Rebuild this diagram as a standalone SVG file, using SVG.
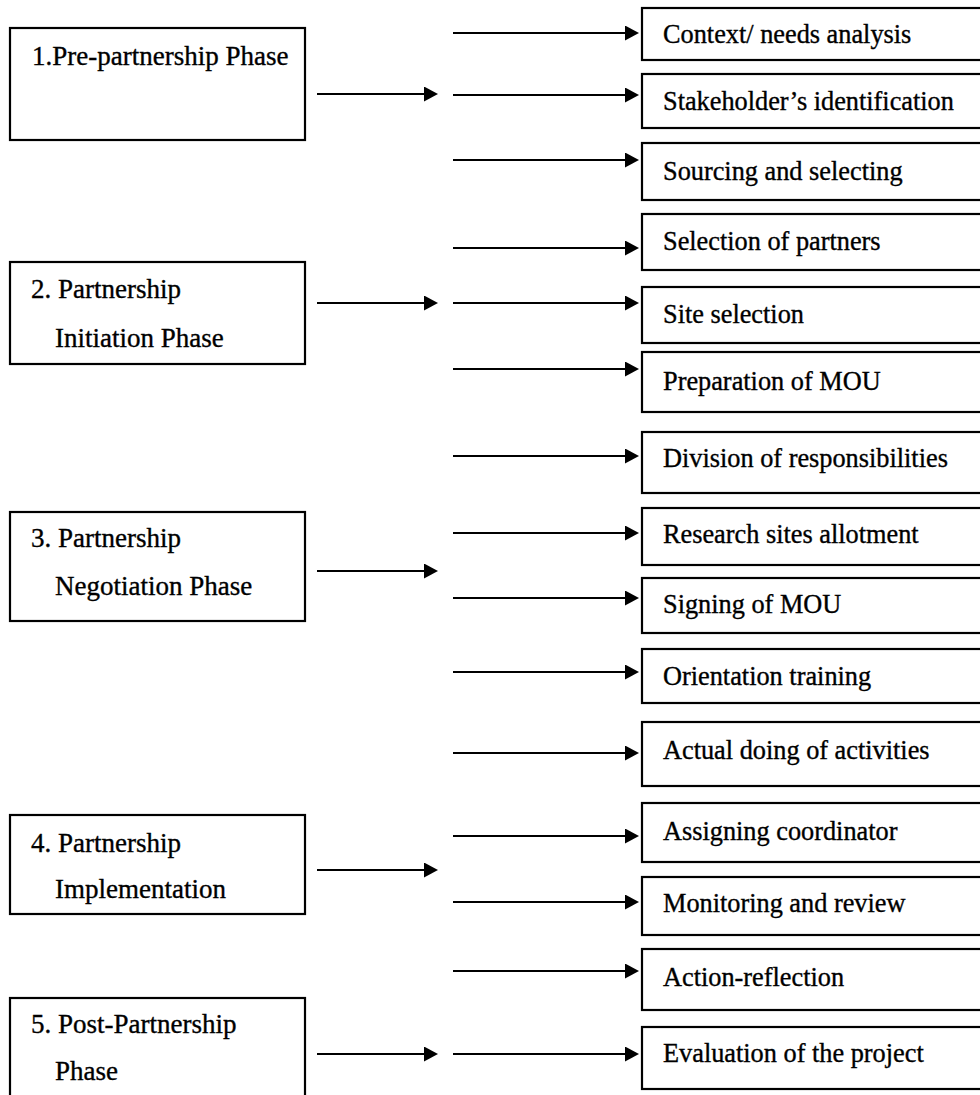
<svg xmlns="http://www.w3.org/2000/svg" width="980" height="1095" viewBox="0 0 980 1095">
<style>
.box{fill:#fff;stroke:#000;stroke-width:2.2}
.t{font-family:"Liberation Serif","Times New Roman",serif;font-size:27px;fill:#000;stroke:#000;stroke-width:0.35}
.r{font-size:26.3px}
.c{stroke:#000;stroke-width:2.2;fill:none;marker-end:url(#ah)}
</style>
<defs>
<marker id="ah" markerUnits="userSpaceOnUse" markerWidth="16" markerHeight="16" refX="12" refY="7.5" orient="auto">
<path d="M0,0 L14,7.5 L0,15 Z" fill="#000"/>
</marker>
</defs>
<rect width="980" height="1095" fill="#fff"/>
<g id="phase1"><rect class="box" x="10" y="28" width="295" height="112"/><text class="t" x="32" y="65">1.Pre-partnership Phase</text></g>
<g id="phase2"><rect class="box" x="10" y="262" width="295" height="102"/><text class="t" x="31" y="298">2. Partnership</text><text class="t" x="55" y="347">Initiation Phase</text></g>
<g id="phase3"><rect class="box" x="10" y="512" width="295" height="109"/><text class="t" x="31" y="547">3. Partnership</text><text class="t" x="55" y="595">Negotiation Phase</text></g>
<g id="phase4"><rect class="box" x="10" y="815" width="295" height="99"/><text class="t" x="31" y="852">4. Partnership</text><text class="t" x="55" y="898">Implementation</text></g>
<g id="phase5"><rect class="box" x="10" y="998" width="295" height="110"/><text class="t" x="31" y="1033">5. Post-Partnership</text><text class="t" x="55" y="1080">Phase</text></g>
<g id="s1"><rect class="box" x="642" y="8" width="350" height="52"/><text class="t r" x="663" y="43">Context/ needs analysis</text></g>
<g id="s2"><rect class="box" x="642" y="74" width="350" height="54"/><text class="t r" x="663" y="110">Stakeholder’s identification</text></g>
<g id="s3"><rect class="box" x="642" y="143" width="350" height="57"/><text class="t r" x="663" y="180">Sourcing and selecting</text></g>
<g id="s4"><rect class="box" x="642" y="214" width="350" height="56"/><text class="t r" x="663" y="250">Selection of partners</text></g>
<g id="s5"><rect class="box" x="642" y="287" width="350" height="56"/><text class="t r" x="663" y="323">Site selection</text></g>
<g id="s6"><rect class="box" x="642" y="352" width="350" height="60"/><text class="t r" x="663" y="390">Preparation of MOU</text></g>
<g id="s7"><rect class="box" x="642" y="432" width="350" height="61"/><text class="t r" x="663" y="467">Division of responsibilities</text></g>
<g id="s8"><rect class="box" x="642" y="508" width="350" height="57"/><text class="t r" x="663" y="543">Research sites allotment</text></g>
<g id="s9"><rect class="box" x="642" y="578" width="350" height="55"/><text class="t r" x="663" y="613">Signing of MOU</text></g>
<g id="s10"><rect class="box" x="642" y="649" width="350" height="54"/><text class="t r" x="663" y="685">Orientation training</text></g>
<g id="s11"><rect class="box" x="642" y="722" width="350" height="64"/><text class="t r" x="663" y="759">Actual doing of activities</text></g>
<g id="s12"><rect class="box" x="642" y="803" width="350" height="59"/><text class="t r" x="663" y="840">Assigning coordinator</text></g>
<g id="s13"><rect class="box" x="642" y="877" width="350" height="58"/><text class="t r" x="663" y="912">Monitoring and review</text></g>
<g id="s14"><rect class="box" x="642" y="949" width="350" height="61"/><text class="t r" x="663" y="986">Action-reflection</text></g>
<g id="s15"><rect class="box" x="642" y="1027" width="350" height="62"/><text class="t r" x="663" y="1062">Evaluation of the project</text></g>
<g id="connectors">
<line class="c" x1="317" y1="94" x2="436" y2="94"/>
<line class="c" x1="317" y1="303" x2="436" y2="303"/>
<line class="c" x1="317" y1="571" x2="436" y2="571"/>
<line class="c" x1="317" y1="870" x2="436" y2="870"/>
<line class="c" x1="317" y1="1054" x2="436" y2="1054"/>
<line class="c" x1="453" y1="33" x2="637" y2="33"/>
<line class="c" x1="453" y1="95" x2="637" y2="95"/>
<line class="c" x1="453" y1="160" x2="637" y2="160"/>
<line class="c" x1="453" y1="248" x2="637" y2="248"/>
<line class="c" x1="453" y1="303" x2="637" y2="303"/>
<line class="c" x1="453" y1="369" x2="637" y2="369"/>
<line class="c" x1="453" y1="456" x2="637" y2="456"/>
<line class="c" x1="453" y1="533" x2="637" y2="533"/>
<line class="c" x1="453" y1="598" x2="637" y2="598"/>
<line class="c" x1="453" y1="672" x2="637" y2="672"/>
<line class="c" x1="453" y1="753" x2="637" y2="753"/>
<line class="c" x1="453" y1="836" x2="637" y2="836"/>
<line class="c" x1="453" y1="902" x2="637" y2="902"/>
<line class="c" x1="453" y1="971" x2="637" y2="971"/>
<line class="c" x1="453" y1="1054" x2="637" y2="1054"/>
</g>
</svg>
